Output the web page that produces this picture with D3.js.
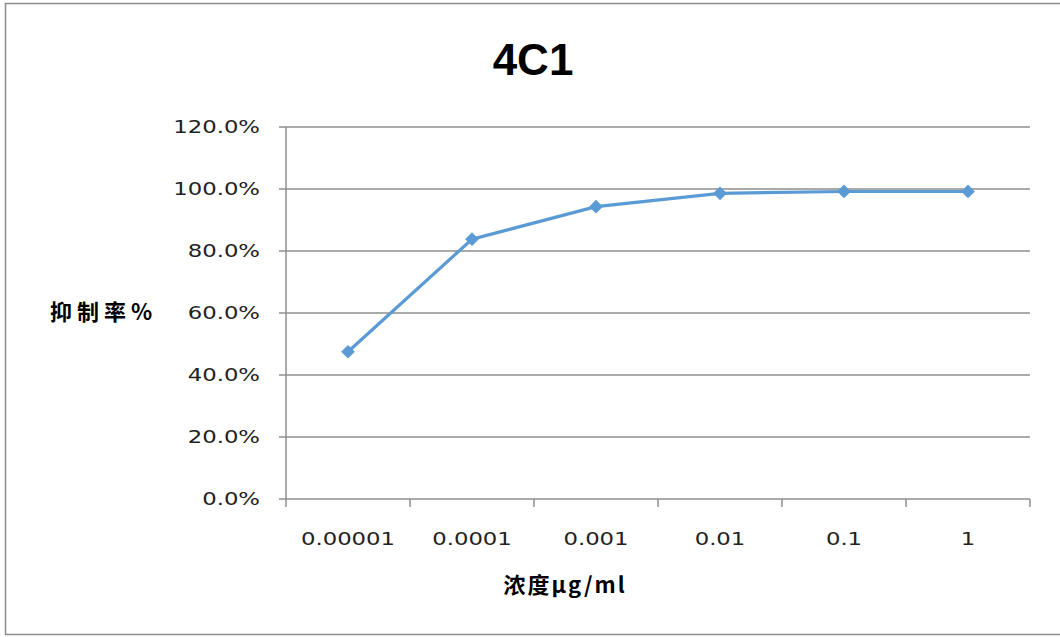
<!DOCTYPE html>
<html>
<head>
<meta charset="utf-8">
<script src="https://cdn.jsdelivr.net/npm/d3@7"></script>
<style>
  body { margin: 0; background: #fff; }
  svg { display: block; }
</style>
</head>
<body>
<svg id="chart" width="1060" height="637"></svg>
<script>
// concentration labels (x) and inhibition rate (y)
const concentrations = ["0.00001", "0.0001", "0.001", "0.01", "0.1", "1"];
const inhibition = [0.475, 0.838, 0.943, 0.986, 0.992, 0.992];
const yTicks = [0, 0.2, 0.4, 0.6, 0.8, 1.0, 1.2];

const w = 1060, h = 637;
const m = { top: 127, right: 30, bottom: 138, left: 286 };
const stretch = 1.34; // tick text in the picture is wide

const svg = d3.select("#chart");

// outer frame (right edge runs off the picture)
svg.append("rect")
  .attr("x", 5.5).attr("y", 3.5)
  .attr("width", w).attr("height", 631)
  .attr("fill", "#fff")
  .attr("stroke", "#8c8c8c")
  .attr("stroke-width", 1.5);

const x = d3.scaleBand().domain(concentrations).range([m.left, w - m.right]);
const y = d3.scaleLinear().domain([0, 1.2]).range([h - m.bottom, m.top]);

// gridlines
svg.append("g")
  .selectAll("line")
  .data(yTicks)
  .enter()
  .append("line")
  .attr("x1", m.left - 7)
  .attr("x2", w - m.right)
  .attr("y1", d => y(d))
  .attr("y2", d => y(d))
  .attr("stroke", "#8e8e8e")
  .attr("stroke-width", 1.5);

// y axis line
svg.append("line")
  .attr("x1", m.left).attr("x2", m.left)
  .attr("y1", y(1.2)).attr("y2", y(0))
  .attr("stroke", "#8e8e8e")
  .attr("stroke-width", 1.5);

// x axis ticks at band edges
const edges = concentrations.map(c => x(c)).concat([x.range()[1]]);
svg.append("g")
  .selectAll("line")
  .data(edges)
  .enter()
  .append("line")
  .attr("x1", d => d).attr("x2", d => d)
  .attr("y1", y(0)).attr("y2", y(0) + 8)
  .attr("stroke", "#8e8e8e")
  .attr("stroke-width", 1.5);

// y tick labels
svg.append("g")
  .selectAll("text")
  .data(yTicks)
  .enter()
  .append("text")
  .text(d => d3.format(".1%")(d))
  .attr("transform", d => "translate(260," + (y(d) + 6) + ") scale(" + stretch + ",1)")
  .attr("text-anchor", "end")
  .attr("font-family", "'DejaVu Sans', sans-serif")
  .attr("font-size", 17)
  .attr("fill", "#222");

// x tick labels
svg.append("g")
  .selectAll("text")
  .data(concentrations)
  .enter()
  .append("text")
  .text(d => d)
  .attr("transform", d => "translate(" + (x(d) + x.bandwidth() / 2) + ",545) scale(" + stretch + ",1)")
  .attr("text-anchor", "middle")
  .attr("font-family", "'DejaVu Sans', sans-serif")
  .attr("font-size", 17)
  .attr("fill", "#222");

// title
svg.append("text")
  .text("4C1")
  .attr("x", 533)
  .attr("y", 75)
  .attr("text-anchor", "middle")
  .attr("font-family", "'Liberation Sans', Arial, sans-serif")
  .attr("font-weight", "bold")
  .attr("font-size", 44)
  .attr("fill", "#000");

// axis titles
svg.append("text")
  .text("抑制率%")
  .attr("x", 50)
  .attr("y", 320)
  .attr("font-family", "'Noto Sans CJK SC', sans-serif")
  .attr("font-weight", "bold")
  .attr("font-size", 22)
  .attr("letter-spacing", 5)
  .attr("fill", "#000");

svg.append("text")
  .text("浓度μg/ml")
  .attr("x", 565)
  .attr("y", 593)
  .attr("text-anchor", "middle")
  .attr("font-family", "'Noto Sans CJK SC', sans-serif")
  .attr("font-weight", "bold")
  .attr("font-size", 22)
  .attr("letter-spacing", 2)
  .attr("fill", "#000");

// series
const line = d3.line()
  .x((d, i) => x(concentrations[i]) + x.bandwidth() / 2)
  .y(d => y(d));

svg.append("path")
  .datum(inhibition)
  .attr("d", line)
  .attr("fill", "none")
  .attr("stroke", "#5b9bd5")
  .attr("stroke-width", 3.2);

svg.append("g")
  .selectAll("path")
  .data(inhibition)
  .enter()
  .append("path")
  .attr("d", d3.symbol().type(d3.symbolDiamond2).size(120))
  .attr("transform", (d, i) => "translate(" + (x(concentrations[i]) + x.bandwidth() / 2) + "," + y(d) + ")")
  .attr("fill", "#5b9bd5");
</script>
</body>
</html>
